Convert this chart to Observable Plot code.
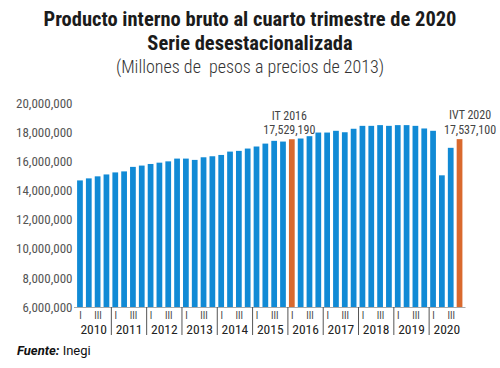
<!DOCTYPE html>
<html>
<head>
<meta charset="utf-8">
<script src="https://cdn.jsdelivr.net/npm/d3@7"></script>
<script src="https://cdn.jsdelivr.net/npm/@observablehq/plot@0.6"></script>
<style>
  body { margin: 0; width: 500px; height: 368px; background: #fff; overflow: hidden; }
  .t { text-align: center; font-family: "Liberation Sans Narrow", "Roboto Condensed", "DejaVu Sans Condensed", Roboto, sans-serif; color: #1b1b1b; }
  #t1 { font-weight: bold; font-size: 20.5px; line-height: 24px; height: 24px; margin-top: 7px; }
  #t2 { font-weight: bold; font-size: 20.5px; line-height: 24px; height: 24px; }
  #t3 { font-size: 18px; line-height: 24px; height: 24px; color: #333; font-weight: 300; }
  #chart { height: 265px; }
  #cap { font-family: Roboto, sans-serif; font-size: 13px; line-height: 14px; padding-left: 17px; color: #111; }
  svg text { font-family: "Liberation Sans Narrow", "Roboto Condensed", "DejaVu Sans Condensed", Roboto, sans-serif; }
</style>
</head>
<body>
<div class="t" id="t1">Producto interno bruto al cuarto trimestre de 2020</div>
<div class="t" id="t2">Serie desestacionalizada</div>
<div class="t" id="t3">(Millones de&nbsp; pesos a precios de 2013)</div>
<div id="chart"></div>
<div id="cap"><b><i>Fuente:</i></b> Inegi</div>
<script>
const years = [2010, 2011, 2012, 2013, 2014, 2015, 2016, 2017, 2018, 2019, 2020];
const quarterNames = ["I", "II", "III", "IV"];
const gdp = [
  14700000, 14840000, 14980000, 15110000,
  15250000, 15320000, 15630000, 15720000,
  15830000, 15920000, 16010000, 16200000,
  16200000, 16110000, 16290000, 16360000,
  16450000, 16680000, 16730000, 16890000,
  17030000, 17230000, 17420000, 17370000,
  17529190, 17580000, 17740000, 17990000,
  17990000, 18110000, 18010000, 18250000,
  18450000, 18450000, 18500000, 18450000,
  18500000, 18500000, 18450000, 18270000,
  18110000, 15050000, 16940000, 17537100
];
const yTicks = [6000000, 8000000, 10000000, 12000000, 14000000, 16000000, 18000000, 20000000];
const highlightPeriods = ["2016-I", "2020-IV"];
const highlightNames = ["IT 2016", "IVT 2020"];
const highlightValues = ["17,529,190", "17,537,100"];

const data = [];
years.forEach((yr, i) => quarterNames.forEach((q, j) => {
  data.push({period: `${yr}-${q}`, year: yr, q, value: gdp[i * 4 + j]});
}));
const periods = data.map(d => d.period);
const notes = highlightPeriods.map((p, i) => ({
  period: p, name: highlightNames[i], label: highlightValues[i],
  value: data.find(d => d.period === p).value
}));
const isHi = d => highlightPeriods.includes(d.period);
const blue = "#118ad5", orange = "#d9692e";
const half = 4.42;

const chart = Plot.plot({
  width: 500,
  height: 265,
  marginLeft: 74,
  marginRight: 34.5,
  marginTop: 24.3,
  marginBottom: 37,
  x: {domain: periods, padding: 0.35},
  y: {domain: [yTicks[0], yTicks[yTicks.length - 1]]},
  marks: [
    Plot.barY(data.filter(d => !isHi(d)), {x: "period", y1: yTicks[0], y2: "value", fill: blue}),
    Plot.barY(data.filter(isHi), {x: "period", y1: yTicks[0], y2: "value", fill: orange}),
    Plot.ruleY([yTicks[0]], {stroke: "#aaa", strokeWidth: 1}),
    Plot.axisY({ticks: yTicks, tickFormat: d3.format(","), tickSize: 0, tickPadding: 2, label: null, fontSize: 13, fill: "#555"}),
    Plot.axisX({ticks: periods.filter(p => /-(I|III)$/.test(p)), tickFormat: p => p.split("-")[1], tickSize: 0, tickPadding: 4, label: null, fontSize: 10, fill: "#444"}),
    Plot.axisX({ticks: periods.filter(p => /-II$/.test(p)), tickFormat: p => p.split("-")[0], tickSize: 0, tickPadding: 17, dx: half, label: null, fontSize: 13.5, fill: "#222"}),
    Plot.axisX({ticks: periods.filter(p => /-I$/.test(p) && !p.startsWith(String(years[0]))), tickFormat: () => "", tickSize: 28, dx: -half, label: null, stroke: "#555"}),
    Plot.text(notes.slice(0, 1), {x: "period", y: "value", text: d => `${d.name}\n${d.label}`, lineAnchor: "bottom", lineHeight: 1.18, dy: -6, dx: -3, fontSize: 12, fill: "#444"}),
    Plot.text(notes.slice(1), {x: "period", y: "value", text: d => `${d.name}\n${d.label}`, lineAnchor: "bottom", lineHeight: 1.18, dy: -6, dx: 10, fontSize: 12, fill: "#444"})
  ]
});
document.getElementById("chart").appendChild(chart);
</script>
</body>
</html>
